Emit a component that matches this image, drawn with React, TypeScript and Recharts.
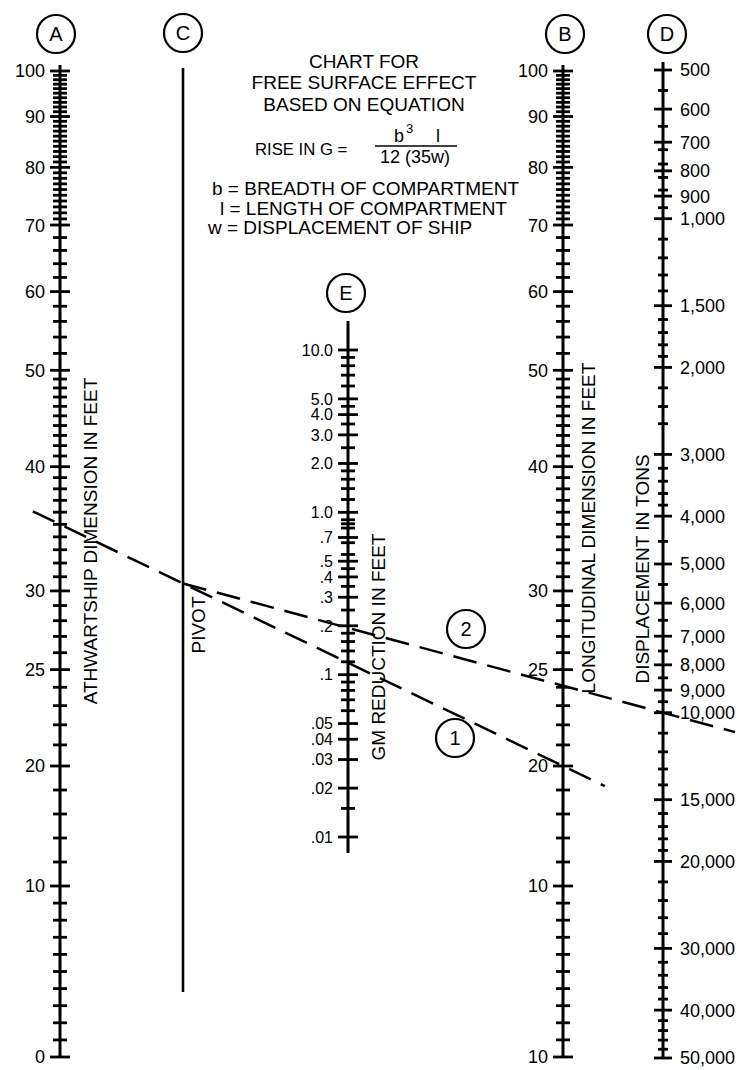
import { ComposedChart, XAxis, YAxis, Scatter, Line, ReferenceLine, ReferenceDot, Customized } from 'recharts';

// ---- scale readings ----
const feetMajor = [100, 90, 80, 70, 60, 50, 40, 30, 25, 20, 10, 0];
const athwartLabels = ['100', '90', '80', '70', '60', '50', '40', '30', '25', '20', '10', '0'];
const longitudinalLabels = ['100', '90', '80', '70', '60', '50', '40', '30', '25', '20', '10', '10'];
const feetMinor = [
  99, 98, 97, 96, 95, 94, 93, 92, 91, 89, 88, 87, 86, 85, 84, 83, 82, 81,
  79, 78, 77, 76, 75, 74, 73, 72, 71, 68, 66, 64, 62, 58, 56, 54, 52,
  49, 48, 47, 46, 45, 44, 43, 42, 41, 39, 38, 37, 36, 35, 34, 33, 32, 31,
  29, 28, 27, 26, 24, 23, 22, 21, 18, 16, 14, 12, 9, 8, 7, 6, 5, 4, 3, 2, 1,
];

const tonsMajor = [500, 600, 700, 800, 900, 1000, 1500, 2000, 3000, 4000, 5000, 6000, 7000, 8000, 9000, 10000, 15000, 20000, 30000, 40000, 50000];
const tonsLabels = ['500', '600', '700', '800', '900', '1,000', '1,500', '2,000', '3,000', '4,000', '5,000', '6,000', '7,000', '8,000', '9,000', '10,000', '15,000', '20,000', '30,000', '40,000', '50,000'];
const tonsMinor = [
  550, 650, 725, 775, 825, 875, 950, 1100, 1200, 1300, 1400, 1600, 1700, 1800, 1900,
  2200, 2400, 2600, 3200, 3400, 3600, 3800, 4500, 5500, 6500, 7500, 8500, 9500,
  11000, 12000, 13000, 14000, 16000, 17000, 18000, 19000, 22000, 24000, 26000, 28000,
  32000, 34000, 36000, 38000, 42000, 44000, 46000, 48000,
];

const gmMajor = [10, 5, 4, 3, 2, 1, 0.7, 0.5, 0.4, 0.3, 0.2, 0.1, 0.05, 0.04, 0.03, 0.02, 0.01];
const gmLabels = ['10.0', '5.0', '4.0', '3.0', '2.0', '1.0', '.7', '.5', '.4', '.3', '.2', '.1', '.05', '.04', '.03', '.02', '.01'];
const gmMinor = [9, 8, 7, 6, 4.5, 3.5, 2.5, 1.8, 1.6, 1.4, 1.2, 0.9, 0.85, 0.8, 0.65, 0.55, 0.45, 0.35, 0.25, 0.18, 0.16, 0.14, 0.12, 0.09, 0.08, 0.07, 0.06, 0.015];

// worked example drawn on the chart
const exampleBreadth = 35;
const exampleLength = 20;
const exampleDisplacement = 10000;

// ---- layout ----
const W = 748;
const H = 1070;
const FONT = 'Liberation Sans, Arial, Helvetica, sans-serif';
const COL = { A: 60, C: 183, E: 348, B: 563, D: 663 };

const logMap = (v0: number, p0: number, v1: number, p1: number) => (v: number) =>
  p0 + ((p1 - p0) * Math.log10(v / v0)) / Math.log10(v1 / v0);

// feet scale is logarithmic down to 20, then compressed linear below
const feetLog = logMap(100, 71, 20, 766);
const feetPos = (v: number) => (v >= 20 ? feetLog(v) : v >= 10 ? 766 + (20 - v) * 12 : 886 + (10 - v) * 17.1);
const tonsPos = logMap(500, 70, 50000, 1058);
const gmPos = logMap(10, 350, 0.01, 837);

type Side = 'left' | 'right';
const buildTicks = (
  x: number, major: number[], labels: string[], minor: number[],
  pos: (v: number) => number, side: Side, big: number, small: number, fs: number,
) => [
  ...major.map((v, i) => ({ x, y: pos(v), label: labels[i], len: big, side, fs })),
  ...minor.map((v) => ({ x, y: pos(v), label: '', len: small, side, fs })),
];

const aTicks = buildTicks(COL.A, feetMajor, athwartLabels, feetMinor, feetPos, 'left', 10, 7, 18);
const bTicks = buildTicks(COL.B, feetMajor, longitudinalLabels, feetMinor, feetPos, 'left', 10, 7, 18);
const dTicks = buildTicks(COL.D, tonsMajor, tonsLabels, tonsMinor, tonsPos, 'right', 9, 5, 18);
const eTicks = buildTicks(COL.E, gmMajor, gmLabels, gmMinor, gmPos, 'left', 10, 7, 16);

const lerp = (p: { x: number; y: number }, q: { x: number; y: number }, t: number) => ({
  x: p.x + (q.x - p.x) * t,
  y: p.y + (q.y - p.y) * t,
});
const pA = { x: COL.A, y: feetPos(exampleBreadth) };
const pB = { x: COL.B, y: feetPos(exampleLength) };
const pivot = lerp(pA, pB, (COL.C - COL.A) / (COL.B - COL.A));
const pD = { x: COL.D, y: tonsPos(exampleDisplacement) };
const line1 = [lerp(pA, pB, -0.054), lerp(pA, pB, 1.083)];
const line2 = [pivot, lerp(pivot, pD, 1.15)];

const TickMark = (props: any) => {
  const { cx, cy, payload } = props;
  const { len, label, side, fs } = payload;
  return (
    <g>
      <line x1={cx - len} x2={cx + len} y1={cy} y2={cy} stroke="#000" strokeWidth={2.8} />
      {label && (
        <text
          x={side === 'left' ? cx - 15 : cx + 17}
          y={cy}
          dy="0.36em"
          textAnchor={side === 'left' ? 'end' : 'start'}
          fontSize={fs}
          fontFamily={FONT}
          fill="#000"
        >
          {label}
        </text>
      )}
    </g>
  );
};

const circled = (text: string) => (props: any) => (
  <g>
    <circle cx={props.cx} cy={props.cy} r={19} fill="#fff" stroke="#000" strokeWidth={2.2} />
    <text x={props.cx} y={props.cy} dy="0.36em" textAnchor="middle" fontSize={20} fontFamily={FONT} fill="#000">
      {text}
    </text>
  </g>
);

const vText = (x: number, y: number, text: string) => (
  <text
    x={x}
    y={y}
    transform={`rotate(-90, ${x}, ${y})`}
    textAnchor="middle"
    dy="0.36em"
    fontSize={19}
    fontFamily={FONT}
    fill="#000"
  >
    {text}
  </text>
);

const Annotations = () => (
  <g fontFamily={FONT} fill="#000" fontSize={19}>
    <text x={364} y={68} textAnchor="middle">CHART FOR</text>
    <text x={364} y={89} textAnchor="middle">FREE SURFACE EFFECT</text>
    <text x={364} y={111} textAnchor="middle">BASED ON EQUATION</text>
    <text x={255} y={155} fontSize={16.7}>RISE IN G =</text>
    <text x={394} y={142} fontSize={18}>b</text>
    <text x={406} y={133} fontSize={13}>3</text>
    <text x={436} y={142} fontSize={18}>l</text>
    <line x1={375} x2={457} y1={146} y2={146} stroke="#000" strokeWidth={1.5} />
    <text x={415} y={163} textAnchor="middle" fontSize={18}>12 (35w)</text>
    <text x={212} y={195}>b = BREADTH OF COMPARTMENT</text>
    <text x={220} y={215}>l = LENGTH OF COMPARTMENT</text>
    <text x={208} y={234}>w = DISPLACEMENT OF SHIP</text>
    {vText(COL.A + 30, 541, 'ATHWARTSHIP DIMENSION IN FEET')}
    {vText(COL.C + 15, 625, 'PIVOT')}
    {vText(COL.E + 30, 647, 'GM REDUCTION IN FEET')}
    {vText(COL.B + 25, 528, 'LONGITUDINAL DIMENSION IN FEET')}
    {vText(COL.D - 21, 569, 'DISPLACEMENT IN TONS')}
  </g>
);

export default function App() {
  return (
    <div style={{ position: 'absolute', left: 0, top: 0, background: '#fff' }}>
      <ComposedChart width={W} height={H} margin={{ top: 0, right: 0, bottom: 0, left: 0 }}>
        <XAxis type="number" dataKey="x" domain={[0, W]} hide allowDataOverflow />
        <YAxis type="number" dataKey="y" domain={[0, H]} reversed hide allowDataOverflow />

        <ReferenceLine segment={[{ x: COL.A, y: feetPos(100) - 6 }, { x: COL.A, y: feetPos(0) }]} stroke="#000" strokeWidth={3} />
        <ReferenceLine segment={[{ x: COL.B, y: feetPos(100) - 6 }, { x: COL.B, y: feetPos(0) }]} stroke="#000" strokeWidth={3} />
        <ReferenceLine segment={[{ x: COL.C, y: 68 }, { x: COL.C, y: 992 }]} stroke="#000" strokeWidth={2.6} />
        <ReferenceLine segment={[{ x: COL.D, y: tonsPos(500) - 8 }, { x: COL.D, y: tonsPos(50000) }]} stroke="#000" strokeWidth={3} />
        <ReferenceLine segment={[{ x: COL.E, y: gmPos(10) - 29 }, { x: COL.E, y: gmPos(0.01) + 16 }]} stroke="#000" strokeWidth={3} />

        <Scatter data={aTicks} shape={TickMark} isAnimationActive={false} />
        <Scatter data={bTicks} shape={TickMark} isAnimationActive={false} />
        <Scatter data={dTicks} shape={TickMark} isAnimationActive={false} />
        <Scatter data={eTicks} shape={TickMark} isAnimationActive={false} />

        <Line data={line1} dataKey="y" stroke="#000" strokeWidth={2.5} strokeDasharray="24 11" strokeLinecap="butt" dot={false} activeDot={false} isAnimationActive={false} />
        <Line data={line2} dataKey="y" stroke="#000" strokeWidth={2.5} strokeDasharray="24 11" strokeLinecap="butt" dot={false} activeDot={false} isAnimationActive={false} />

        <Customized component={Annotations} />

        <ReferenceDot x={56} y={34} shape={circled('A')} />
        <ReferenceDot x={COL.C} y={33} shape={circled('C')} />
        <ReferenceDot x={565} y={34} shape={circled('B')} />
        <ReferenceDot x={667} y={34} shape={circled('D')} />
        <ReferenceDot x={346} y={293} shape={circled('E')} />
        <ReferenceDot x={466} y={629} shape={circled('2')} />
        <ReferenceDot x={455} y={738} shape={circled('1')} />
      </ComposedChart>
    </div>
  );
}
